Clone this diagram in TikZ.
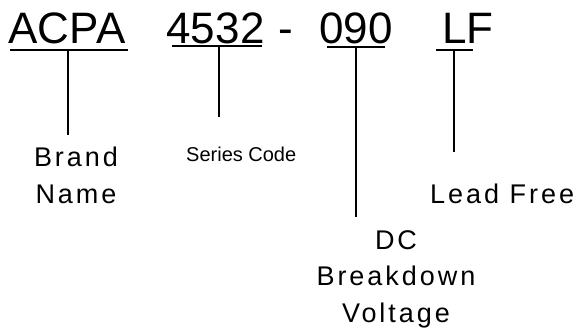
\documentclass[tikz,border=0pt]{standalone}
\usepackage{fontspec}
\setmainfont{Liberation Sans}
\newfontfamily\codefont[LetterSpace=0.5]{Liberation Sans}
\newfontfamily\lblfont[LetterSpace=11]{Liberation Sans}
\begin{document}
\begin{tikzpicture}[x=1pt,y=-1pt,
  code/.style={inner sep=0pt,anchor=base west,font=\codefont\fontsize{44}{50}\selectfont},
  lbl/.style={inner sep=0pt,align=center,font=\lblfont\fontsize{27}{36.5}\selectfont},
  small/.style={inner sep=0pt,anchor=base west,font=\fontsize{20}{24}\selectfont},
  rule/.style={line width=1.4pt}]
\useasboundingbox (0,0) rectangle (582,330);
% code parts
\node[code] (acpa) at (8,43) {ACPA};
\node[code] (ser) at (166,43) {4532};
\node[code] (dash) at (278,43) {-};
\node[code] (volt) at (319,43) {090};
\node[code] (lf) at (442,43) {LF};
% labels
\node[lbl,anchor=base] (brand) at (76,203) {Brand\\Name};
\node[small] (series) at (186,161) {Series Code};
\node[lbl,anchor=base west] (lead) at (430,203) {Lead Free};
\node[lbl,anchor=base] (dc) at (396,322) {DC\\Breakdown\\Voltage};
% underlines
\coordinate (u1a) at (10,50); \coordinate (u1b) at (128,50);
\coordinate (u2a) at (172,46); \coordinate (u2b) at (262,46);
\coordinate (u3a) at (327,47); \coordinate (u3b) at (385,47);
\coordinate (u4a) at (436,50); \coordinate (u4b) at (473,50);
\draw[rule] (u1a) -- (u1b);
\draw[rule] (u2a) -- (u2b);
\draw[rule] (u3a) -- (u3b);
\draw[rule] (u4a) -- (u4b);
% leaders
\coordinate (t1) at (68,50);  \coordinate (e1) at (68,135);
\coordinate (t2) at (219,46); \coordinate (e2) at (219,117);
\coordinate (t3) at (356,47); \coordinate (e3) at (356,217);
\coordinate (t4) at (454,50); \coordinate (e4) at (454,152);
\draw[rule] (t1) -- (e1);
\draw[rule] (t2) -- (e2);
\draw[rule] (t3) -- (e3);
\draw[rule] (t4) -- (e4);
\end{tikzpicture}
\end{document}
